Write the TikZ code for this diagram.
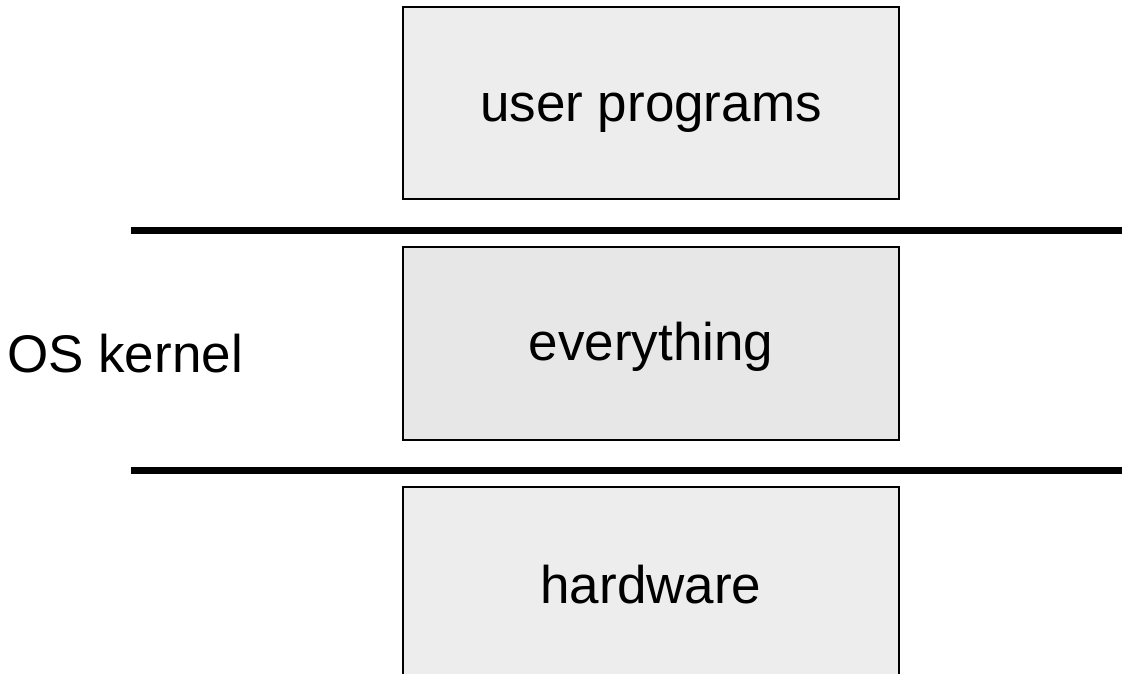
\documentclass[tikz,border=0pt]{standalone}
\usepackage{fontspec}
\setmainfont{Liberation Sans}
\begin{document}
\begin{tikzpicture}[x=1pt,y=-1pt,
  layerbox/.style={draw=black, line width=2pt, inner sep=0pt,
    minimum width=496pt, anchor=north},
  layertext/.style={font=\fontsize{53}{60}\selectfont, inner sep=0pt, anchor=base},
  divider/.style={line width=7pt}]
  \useasboundingbox (0,0) rectangle (1122,674);

  % stacked layers
  \node[layerbox, fill=gray!14, minimum height=192pt] (user) at (651,6) {};
  \node[layerbox, fill=gray!19, minimum height=193pt] (kern) at (651,246) {};
  \node[layerbox, fill=gray!14, minimum height=230pt] (hw)   at (651,486) {};

  \node[layertext] (usertxt) at (651,122) {user programs};
  \node[layertext] (kerntxt) at (651,360) {everything};
  \node[layertext] (hwtxt)   at (651,603) {hardware};
  \node[layertext, anchor=base west] (oslbl) at (7,372) {OS kernel};

  % protection boundaries
  \coordinate (d1a) at (131,230.5);
  \coordinate (d1b) at (1122,230.5);
  \coordinate (d2a) at (131,470.5);
  \coordinate (d2b) at (1122,470.5);
  \draw[divider] (d1a) -- (d1b);
  \draw[divider] (d2a) -- (d2b);
\end{tikzpicture}
\end{document}
